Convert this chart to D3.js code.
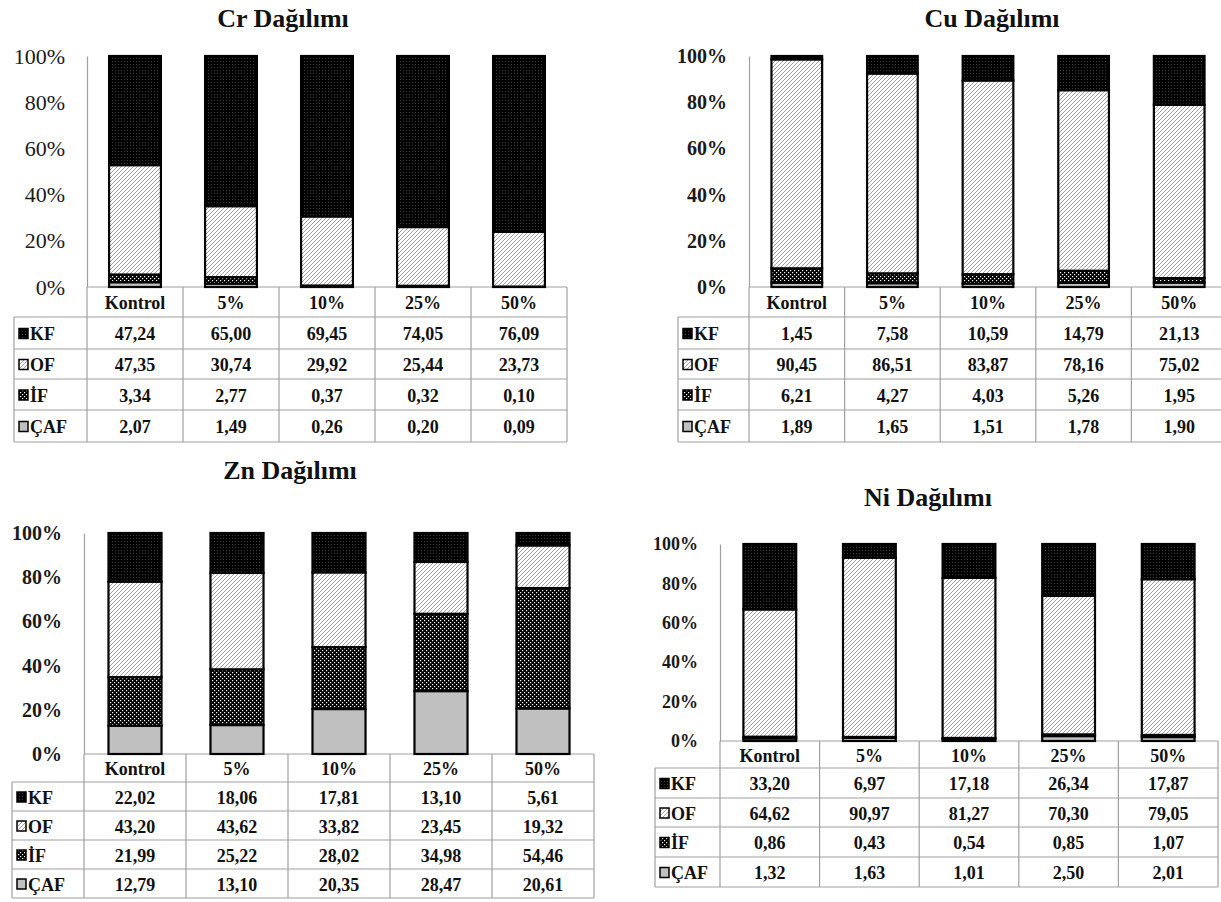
<!DOCTYPE html>
<html><head><meta charset="utf-8">
<script src="https://cdn.jsdelivr.net/npm/d3@7"></script>
<style>body{margin:0;background:#fff}svg{display:block}</style>
</head><body><svg id="c" width="1221" height="902"></svg>
<script>
// ---- data ----
const categories = ["Kontrol","5%","10%","25%","50%"];
const fractions = ["KF","OF","İF","ÇAF"];
const yTicks = [0,0.2,0.4,0.6,0.8,1];
const crKF=[47.24,65.00,69.45,74.05,76.09];
const crOF=[47.35,30.74,29.92,25.44,23.73];
const crIF=[3.34,2.77,0.37,0.32,0.10];
const crCAF=[2.07,1.49,0.26,0.20,0.09];
const cuKF=[1.45,7.58,10.59,14.79,21.13];
const cuOF=[90.45,86.51,83.87,78.16,75.02];
const cuIF=[6.21,4.27,4.03,5.26,1.95];
const cuCAF=[1.89,1.65,1.51,1.78,1.90];
const znKF=[22.02,18.06,17.81,13.10,5.61];
const znOF=[43.20,43.62,33.82,23.45,19.32];
const znIF=[21.99,25.22,28.02,34.98,54.46];
const znCAF=[12.79,13.10,20.35,28.47,20.61];
const niKF=[33.20,6.97,17.18,26.34,17.87];
const niOF=[64.62,90.97,81.27,70.30,79.05];
const niIF=[0.86,0.43,0.54,0.85,1.07];
const niCAF=[1.32,1.63,1.01,2.50,2.01];

const svg = d3.select("#c");
const FONT = '"Liberation Serif"';
const defs = svg.append("defs");
// patterns
const pKF = defs.append("pattern").attr("id","pKF").attr("patternUnits","userSpaceOnUse").attr("width",3).attr("height",3);
pKF.append("rect").attr("width",3).attr("height",3).attr("fill","#000");
pKF.append("rect").attr("x",1).attr("y",1).attr("width",1).attr("height",1).attr("fill","#3c3c3c");
const pOF = defs.append("pattern").attr("id","pOF").attr("patternUnits","userSpaceOnUse").attr("width",4).attr("height",4);
pOF.append("rect").attr("width",4).attr("height",4).attr("fill","#fff");
pOF.append("path").attr("d","M0,4 L4,0 M-1,1 L1,-1 M3,5 L5,3").attr("stroke","#777").attr("stroke-width",0.7);
const pIF = defs.append("pattern").attr("id","pIF").attr("patternUnits","userSpaceOnUse").attr("width",4).attr("height",4);
pIF.append("rect").attr("width",4).attr("height",4).attr("fill","#000");
pIF.append("rect").attr("x",0).attr("y",0).attr("width",1.2).attr("height",1.2).attr("fill","#fff");
pIF.append("rect").attr("x",2).attr("y",2).attr("width",1.2).attr("height",1.2).attr("fill","#fff");
const fills = {"KF":"url(#pKF)","OF":"url(#pOF)","İF":"url(#pIF)","ÇAF":"#c0c0c0"};

const numFmt = d3.formatLocale({decimal:",",thousands:".",grouping:[3],currency:["",""]}).format(".2f");

function txt(sel, size, bold){
  return sel.style("font-family",FONT).style("font-size",size+"px").style("font-weight",bold?"bold":"normal").attr("fill","#111");
}

function panel(cfg, title, kf, of, inf, caf){
  const rows = categories.map((c,i)=>({cat:c,"KF":kf[i],"OF":of[i],"İF":inf[i],"ÇAF":caf[i]}));
  const stack = d3.stack().keys(["ÇAF","İF","OF","KF"]).offset(d3.stackOffsetExpand)(rows);
  const x = d3.scaleBand().domain(categories).range([cfg.axisX,cfg.right]).paddingInner(cfg.pad).paddingOuter(cfg.pad/2);
  const y = d3.scaleLinear().domain([0,1]).range([cfg.rows[0],cfg.yTop]);
  const g = svg.append("g");
  txt(g.append("text").attr("x",cfg.titleX).attr("y",cfg.titleY).attr("text-anchor","middle")
    .attr("dominant-baseline","central"),26,true).text(title);
  const ax = g.append("g").attr("transform",`translate(${cfg.axisX},0)`)
    .call(d3.axisLeft(y).tickValues(yTicks).tickFormat(d3.format(".0%")).tickSize(0).tickSizeOuter(0).tickPadding(cfg.labelPad));
  ax.select(".domain").attr("stroke","#a0a0a0").attr("stroke-width",1.2);
  txt(ax.selectAll(".tick text"),cfg.labelSize,cfg.labelBold).attr("fill","#1a1a1a");
  const R = cfg.rows, step = x.step();
  const lines = g.append("g").attr("stroke","#a0a0a0").attr("stroke-width",1.2);
  lines.append("line").attr("x1",cfg.axisX).attr("x2",cfg.right).attr("y1",R[0]).attr("y2",R[0]);
  for(let i=1;i<R.length;i++) lines.append("line").attr("x1",cfg.tableLeft).attr("x2",cfg.right).attr("y1",R[i]).attr("y2",R[i]);
  lines.append("line").attr("x1",cfg.tableLeft).attr("x2",cfg.tableLeft).attr("y1",R[1]).attr("y2",R[R.length-1]);
  for(let i=0;i<=categories.length;i++){
    const xx = cfg.axisX + i*step;
    lines.append("line").attr("x1",xx).attr("x2",xx).attr("y1",R[0]).attr("y2",R[R.length-1]);
  }
  txt(g.selectAll(".hdr").data(categories).join("text")
    .attr("x",d=>x(d)+x.bandwidth()/2).attr("y",(R[0]+R[1])/2+1).attr("text-anchor","middle")
    .attr("dominant-baseline","central"),cfg.tableSize,true).text(d=>d);
  const seriesMap = {"KF":kf,"OF":of,"İF":inf,"ÇAF":caf};
  fractions.forEach((f,ri)=>{
    const cy = (R[ri+1]+R[ri+2])/2+1;
    g.append("rect").attr("x",cfg.tableLeft+5).attr("y",cy-5.5).attr("width",9).attr("height",10)
      .attr("fill",fills[f]).attr("stroke","#000").attr("stroke-width",1.5);
    txt(g.append("text").attr("x",cfg.tableLeft+16).attr("y",cy).attr("dominant-baseline","central"),cfg.tableSize,true).text(f);
    txt(g.selectAll(null).data(seriesMap[f]).join("text")
      .attr("x",(d,i)=>x(categories[i])+x.bandwidth()/2).attr("y",cy).attr("text-anchor","middle")
      .attr("dominant-baseline","central"),cfg.tableSize,true).text(d=>numFmt(d));
  });
  stack.forEach(s=>{
    g.append("g").selectAll("rect").data(s).join("rect")
      .attr("x",d=>x(d.data.cat)).attr("width",x.bandwidth())
      .attr("y",d=>y(d[1])).attr("height",d=>Math.max(0,y(d[0])-y(d[1])))
      .attr("fill",fills[s.key]).attr("stroke","#000").attr("stroke-width",2.2);
  });
}

panel({axisX:87,right:567,yTop:56,rows:[287,317,349,379,410,442],tableLeft:14,pad:0.46,
  titleX:283,titleY:18,labelSize:22,labelBold:false,labelPad:22,tableSize:18},"Cr Dağılımı",crKF,crOF,crIF,crCAF);
panel({axisX:749,right:1227,yTop:56,rows:[287,317,349,379,410,442],tableLeft:678,pad:0.47,
  titleX:992,titleY:18,labelSize:20,labelBold:true,labelPad:22,tableSize:18},"Cu Dağılımı",cuKF,cuOF,cuIF,cuCAF);
panel({axisX:84,right:594,yTop:533,rows:[754,782,811,840,869,898],tableLeft:12,pad:0.48,
  titleX:290,titleY:470,labelSize:20,labelBold:true,labelPad:22,tableSize:18},"Zn Dağılımı",znKF,znOF,znIF,znCAF);
panel({axisX:720,right:1218,yTop:544,rows:[741,768,798,827,857,887],tableLeft:655,pad:0.47,
  titleX:928,titleY:497,labelSize:18,labelBold:true,labelPad:22,tableSize:18},"Ni Dağılımı",niKF,niOF,niIF,niCAF);
</script></body></html>
